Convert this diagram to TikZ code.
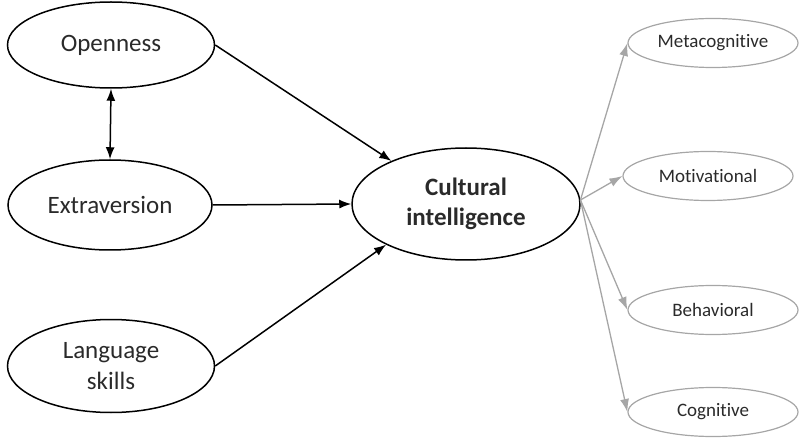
\documentclass[tikz,border=0pt]{standalone}
\usepackage{fontspec}
\setmainfont[Ligatures={NoCommon}]{Carlito}
\usetikzlibrary{shapes.geometric,arrows.meta}
\definecolor{txt}{HTML}{2A2A2A}
\definecolor{soft}{HTML}{A6A6A6}
\begin{document}
\begin{tikzpicture}[x=1pt,y=-1pt,
  bigell/.style={ellipse,draw=black,line width=1.5pt,inner sep=0pt,
    align=center,text=txt,font=\fontsize{25}{30.5}\selectfont},
  smallell/.style={ellipse,draw=soft,line width=1.2pt,inner sep=0pt,
    minimum width=170pt,minimum height=49pt,text=txt,
    font=\fontsize{19}{22}\selectfont},
  mainarrow/.style={line width=1.5pt,-{Latex[length=12pt,width=9pt]}},
  subarrow/.style={draw=soft,line width=1.3pt,-{Latex[length=13pt,width=9pt]}}]
\useasboundingbox (0,0) rectangle (800,438);

% predictors
\node[bigell,minimum width=207pt,minimum height=86pt] (open) at (111,45) {Openness};
\node[bigell,minimum width=204pt,minimum height=90pt] (extra) at (110,205) {Extraversion};
\node[bigell,minimum width=207pt,minimum height=93pt] (lang) at (111,366) {Language\\skills};

% outcome
\node[bigell,minimum width=228pt,minimum height=112pt,font=\bfseries\fontsize{25}{30.5}\selectfont] (cult) at (466,204) {Cultural\\intelligence};

% facets
\node[smallell] (meta) at (713,43) {Metacognitive};
\node[smallell] (motiv) at (708,176) {Motivational};
\node[smallell] (behav) at (713,310) {Behavioral};
\node[smallell] (cog) at (713,412) {Cognitive};

% paths
\draw[line width=1.5pt,{Latex[length=12pt,width=9pt]}-{Latex[length=12pt,width=9pt]}] (open.south) -- (extra.north);
\draw[mainarrow] (open.east) -- (cult.150);
\draw[mainarrow] (extra.east) -- (cult.west);
\draw[mainarrow] (lang.east) -- (cult.207);

\coordinate (hub) at (cult.2);
\draw[subarrow] (hub) -- (meta.west);
\draw[subarrow] (hub) -- (motiv.west);
\draw[subarrow] (hub) -- (behav.west);
\draw[subarrow] (hub) -- (cog.west);
\end{tikzpicture}
\end{document}
